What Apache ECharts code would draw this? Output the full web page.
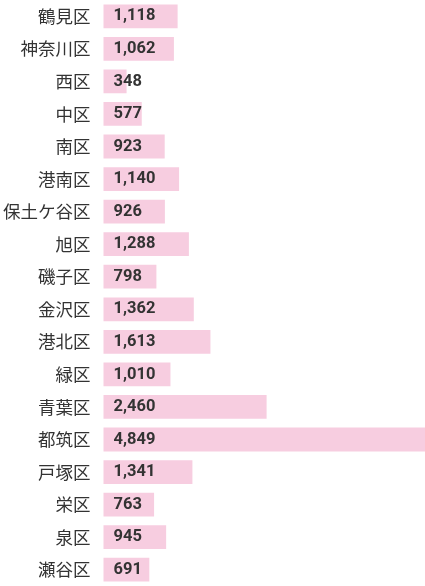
<!DOCTYPE html>
<html>
<head>
<meta charset="utf-8">
<script src="https://cdn.jsdelivr.net/npm/echarts@6/dist/echarts.min.js"></script>
<style>
    html, body { margin: 0; padding: 0; background: #fff; }
    #chart { width: 425px; height: 586px; }
</style>
</head>
<body>
<div id="chart"></div>
<script>
// 区名
var wards = ['鶴見区', '神奈川区', '西区', '中区', '南区', '港南区', '保土ケ谷区', '旭区', '磯子区',
    '金沢区', '港北区', '緑区', '青葉区', '都筑区', '戸塚区', '栄区', '泉区', '瀬谷区'];
// 件数
var counts = [1118, 1062, 348, 577, 923, 1140, 926, 1288, 798,
    1362, 1613, 1010, 2460, 4849, 1341, 763, 945, 691];

var chart = echarts.init(document.getElementById('chart'));
var option = {
    animation: false,
    grid: {
        left: 103,
        right: 0,
        top: -4,
        bottom: -4,
        containLabel: false
    },
    xAxis: {
        type: 'value',
        min: 0,
        max: 4849,
        show: false
    },
    yAxis: {
        type: 'category',
        inverse: true,
        data: wards,
        axisLine: { show: false },
        axisTick: { show: false },
        axisLabel: {
            margin: 13,
            color: '#333',
            fontSize: 17.5,
            fontFamily: 'Noto Sans CJK JP'
        }
    },
    series: [
        {
            type: 'bar',
            data: counts,
            barCategoryGap: '27%',
            itemStyle: {
                color: '#f7cde0'
            },
            label: {
                show: true,
                position: 'insideLeft',
                distance: 10,
                color: '#333',
                fontSize: 16.5,
                fontWeight: 'bold',
                fontFamily: 'Roboto',
                formatter: function (p) {
                    return p.value.toLocaleString('en-US');
                }
            }
        }
    ]
};
chart.setOption(option);
window.addEventListener('resize', function () {
    chart.resize();
});
</script>
</body>
</html>
